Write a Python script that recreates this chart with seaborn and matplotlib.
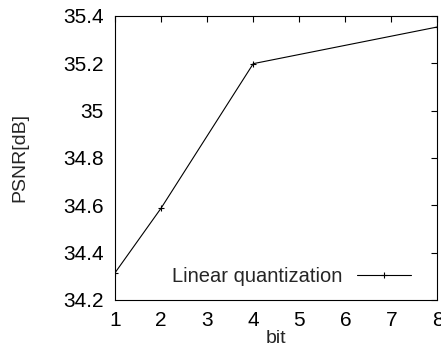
import numpy as np
import pandas as pd
import matplotlib
matplotlib.use('agg')
import matplotlib.pyplot as plt
import seaborn as sns

bits = [1, 2, 4, 8]
psnr = [34.315, 34.588, 35.198, 35.353]

df = pd.DataFrame({'bit': bits, 'psnr': psnr})

sns.set_style('white')
plt.rcParams['font.family'] = ['Liberation Sans', 'DejaVu Sans']

fig = plt.figure(figsize=(4.41, 3.52), dpi=100)
ax = fig.add_axes([0.261, 0.148, 0.731, 0.807])

sns.lineplot(data=df, x='bit', y='psnr', color='black', linewidth=0.8,
             marker='+', markersize=5, markeredgewidth=0.8,
             markeredgecolor='black',
             label='Linear quantization', ax=ax)

ax.set_xlim(1, 8)
ax.set_ylim(34.2, 35.4)
ax.set_xticks(range(1, 9))
ax.set_yticks([34.2, 34.4, 34.6, 34.8, 35.0, 35.2, 35.4])
ax.set_yticklabels(['34.2', '34.4', '34.6', '34.8', '35', '35.2', '35.4'])
ax.tick_params(direction='in', length=4, width=0.8, top=True, right=True,
               labelsize=15, colors='black')
ax.tick_params(axis='x', pad=8)
ax.tick_params(axis='y', pad=8)
for s in ax.spines.values():
    s.set_color('black')
    s.set_linewidth(0.8)

ax.set_xlabel('bit', fontsize=14, labelpad=0)
ax.set_ylabel('PSNR[dB]', fontsize=14, labelpad=25)

ax.legend(loc='lower right', bbox_to_anchor=(0.962, 0.0), frameon=False,
          markerfirst=False, fontsize=14.5,
          handlelength=2.7, borderaxespad=0.3, handletextpad=0.7)

fig.savefig('out.png', dpi=100)
